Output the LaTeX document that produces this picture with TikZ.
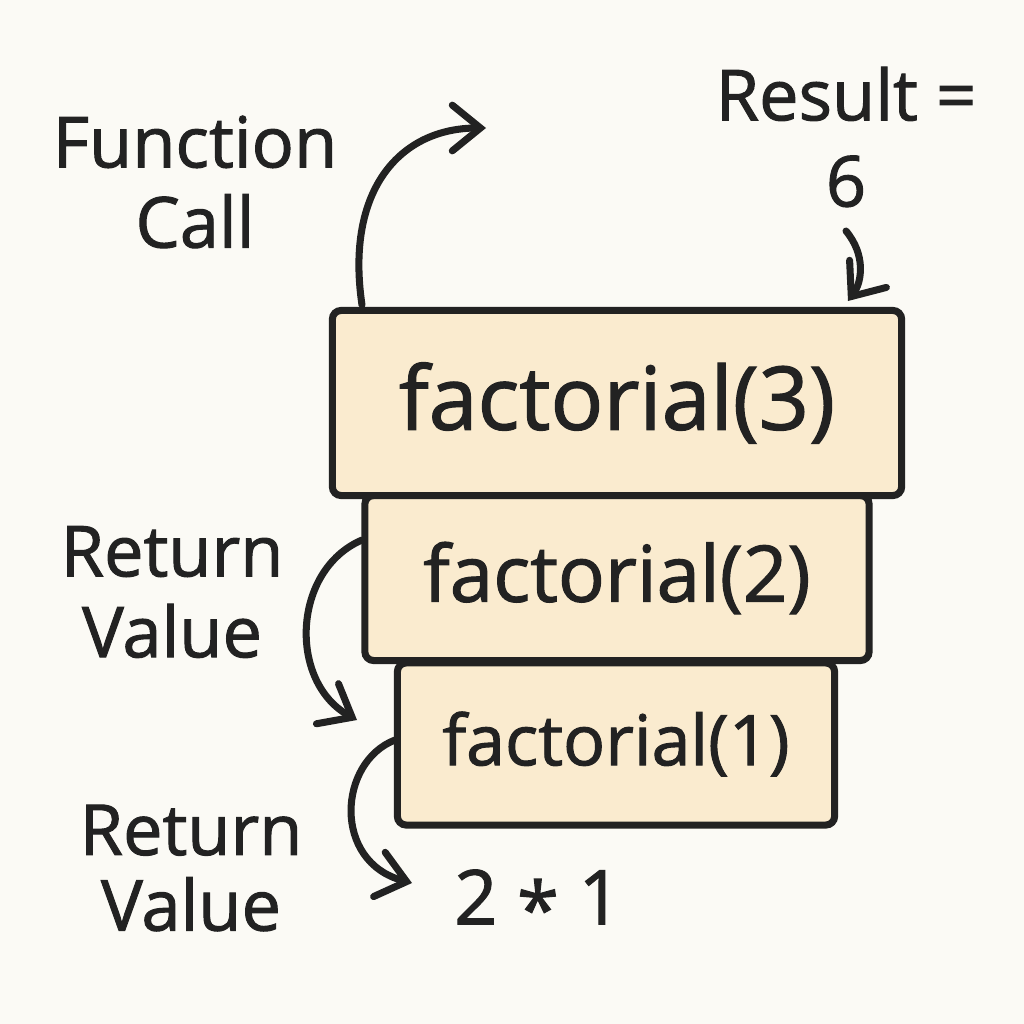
\documentclass[tikz,border=0pt]{standalone}
\usepackage{fontspec}
\setmainfont{Open Sans}[UprightFeatures={FakeBold=1.4}]
\usetikzlibrary{arrows.meta}
\definecolor{bg}{HTML}{FBFAF5}
\definecolor{boxfill}{HTML}{FAEBCF}
\definecolor{ink}{HTML}{222222}

\begin{document}
\begin{tikzpicture}[x=0.01cm,y=-0.01cm,
  box/.style={draw=ink, fill=boxfill, line width=2pt, rounded corners=2.5pt, inner sep=0pt, text=ink},
  lbl/.style={text=ink, align=center, font=\fontsize{20}{23}\selectfont},
  arr/.style={draw=ink, line width=2pt, line cap=round,
    -{Straight Barb[length=8pt,width=13pt,line width=2pt,line cap=round]}}]
\fill[bg] (0,0) rectangle (1024,1024);
\useasboundingbox (0,0) rectangle (1024,1024);
% the stack of calls
\node[box, minimum width=4.37cm, minimum height=1.62cm, font=\fontsize{19.9}{22}\selectfont] (f1) at (616,744) {factorial(1)};
\node[box, minimum width=5.04cm, minimum height=1.65cm, font=\fontsize{22.2}{25}\selectfont] (f2) at (617,578) {factorial(2)};
\node[box, minimum width=5.69cm, minimum height=1.85cm, font=\fontsize{25}{28}\selectfont] (f3) at (617,403) {factorial(3)};
% labels
\node[lbl, font=\fontsize{20}{22.8}\selectfont] (call) at (195,182) {Function\\Call};
\node[lbl, font=\fontsize{20}{24.5}\selectfont] (result) at (846,137) {Result =\\6};
\node[lbl] (ret1) at (172,592) {Return\\Value};
\node[lbl, font=\fontsize{20}{21.5}\selectfont] (ret2) at (191,868) {Return\\Value};
\node[lbl, font=\fontsize{21.5}{24}\selectfont] (prod) at (538,903) {2 \raisebox{-0.3ex}{*} 1};
% arrow ends
\coordinate (callA) at (362,305);
\coordinate (callB) at (486,128);
\coordinate (resA) at (846,231);
\coordinate (resB) at (848,301);
\coordinate (retA) at (362,540);
\coordinate (retB) at (357,720);
\coordinate (retC) at (395,740);
\coordinate (retD) at (412,883);
% arrows
\draw[arr] (callA) .. controls (345,190) and (400,128) .. (callB);
\draw[arr] (resA) .. controls (866,255) and (862,282) .. (resB);
\draw[arr] (retA) .. controls (292,570) and (288,682) .. (retB);
\draw[arr] (retC) .. controls (338,762) and (332,862) .. (retD);
\end{tikzpicture}
\end{document}
